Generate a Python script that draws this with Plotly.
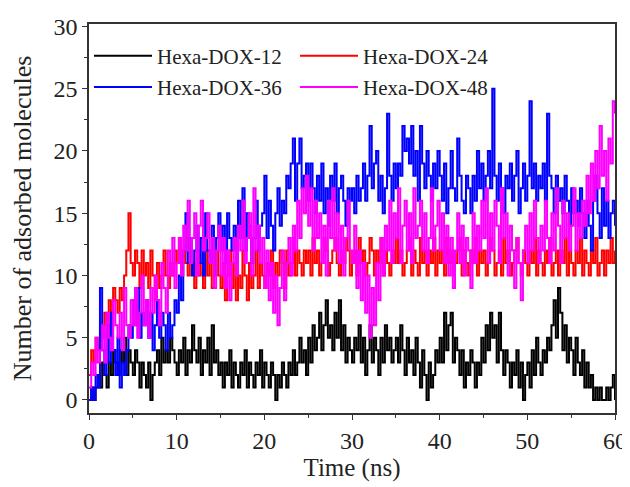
import numpy as np
import plotly.graph_objects as go

dt = 0.25  # ns between samples
series_names = ["Hexa-DOX-12", "Hexa-DOX-24", "Hexa-DOX-36", "Hexa-DOX-48"]
series_colors = ["#000000", "#ff0000", "#0000ff", "#ff00ff"]
series_legend = ["legend", "legend", "legend2", "legend2"]

hexa_dox_12 = [
    0,1,0,1,2,1,3,2,1,3,2,4,3,2,4,3,5,2,4,3,
    2,4,3,1,3,2,1,3,0,2,3,4,2,5,3,4,3,5,4,3,
    2,4,3,5,2,4,3,6,4,3,5,2,4,3,5,2,6,3,4,2,
    3,1,3,2,4,1,3,2,1,3,2,4,1,3,2,1,3,2,4,1,
    3,2,1,3,2,0,2,1,3,2,1,3,2,4,2,3,5,3,4,2,
    5,3,6,4,5,7,4,6,8,5,6,4,7,5,8,4,6,3,5,4,
    3,5,4,6,3,5,2,4,6,3,5,4,2,5,3,6,4,5,3,4,
    5,3,6,4,2,5,3,4,2,5,3,1,4,2,0,3,1,2,4,3,
    5,3,7,4,6,7,3,5,4,2,4,1,3,2,4,3,1,3,2,5,
    3,6,4,7,5,6,3,7,4,2,4,3,1,3,2,4,1,3,0,2,
    3,1,4,2,5,3,2,4,3,5,4,6,8,5,9,7,4,6,3,5,
    4,2,5,3,2,4,1,3,1,2,0,1,0,1,0,0,1,0,1,2,
    0,
]
hexa_dox_24 = [
    2,4,3,5,4,6,5,7,6,8,7,9,8,7,9,8,10,12,15,11,
    10,12,11,9,12,10,11,9,12,10,8,11,9,10,12,10,9,11,10,12,
    11,13,10,12,11,10,13,11,9,12,10,11,9,12,10,11,9,10,12,10,
    9,11,8,10,12,9,11,8,10,9,12,10,8,11,9,10,12,9,11,10,
    9,11,10,12,9,11,10,12,11,9,12,10,11,13,10,12,11,10,12,11,
    12,10,13,11,12,10,11,13,12,10,11,12,13,11,10,12,11,13,12,10,
    11,12,10,13,11,12,10,11,13,12,10,12,11,13,10,12,11,10,12,11,
    13,11,12,10,11,12,13,10,12,11,10,13,11,12,10,12,11,13,10,12,
    11,12,10,13,11,12,10,11,12,13,10,12,11,10,12,11,13,10,12,11,
    12,10,11,13,12,10,11,12,10,13,11,12,10,11,12,13,11,10,12,11,
    10,12,11,13,10,12,11,10,12,11,13,10,11,12,10,12,11,13,10,12,
    11,10,12,11,13,10,12,11,10,12,11,13,10,11,12,10,12,11,13,11,
    12,
]
hexa_dox_36 = [
    0,1,0,2,1,9,4,2,6,3,7,4,2,5,1,3,2,4,6,5,
    8,6,9,5,7,6,8,5,7,4,6,8,5,7,6,4,7,5,6,8,
    7,10,8,12,15,11,13,10,12,14,11,13,10,15,12,11,14,10,13,15,
    12,14,11,15,13,12,14,11,16,13,17,12,15,14,11,13,16,12,14,15,
    18,13,16,14,12,15,17,14,16,15,18,17,19,21,16,19,21,17,18,19,
    16,19,17,15,18,16,19,15,17,14,18,16,19,15,17,18,16,14,17,16,
    17,15,18,16,17,19,16,18,22,17,19,20,16,18,15,17,23,18,16,19,
    17,19,18,22,20,21,19,22,18,20,16,22,19,17,20,18,16,19,17,20,
    18,16,19,15,17,20,17,16,21,18,16,15,18,17,15,18,16,20,17,19,
    16,18,20,17,25,18,16,19,17,15,18,17,19,16,18,20,15,17,19,16,
    18,24,17,19,16,18,17,19,16,23,18,17,15,18,16,17,15,18,16,14,
    17,15,16,14,17,15,13,16,14,12,16,18,15,13,17,14,16,13,15,16,
    14,
]
hexa_dox_48 = [
    1,3,2,5,3,4,6,3,7,5,4,8,6,5,7,4,9,6,5,8,
    6,9,5,7,10,6,8,5,9,7,10,8,6,11,9,7,12,10,13,9,
    11,13,10,14,12,16,11,13,15,10,14,16,12,13,15,11,13,9,12,14,
    10,13,9,12,8,11,13,10,14,12,16,11,13,15,10,17,12,14,11,13,
    9,12,8,11,7,10,6,9,12,8,11,13,10,14,12,16,13,17,15,18,
    14,17,12,16,13,15,11,14,10,16,13,17,12,15,11,14,10,13,16,12,
    11,14,9,12,8,11,7,10,5,9,6,11,8,13,10,14,12,16,11,15,
    13,17,11,14,16,12,15,11,17,13,14,16,12,15,11,13,17,12,14,16,
    12,15,11,14,10,13,9,12,15,11,14,10,13,12,9,15,11,14,12,16,
    13,17,11,15,12,16,14,11,17,13,15,10,14,12,9,13,11,8,12,14,
    11,15,12,16,13,11,14,12,16,13,11,15,12,17,14,11,16,13,15,12,
    14,17,12,15,13,16,14,18,15,19,16,20,17,22,18,20,16,21,19,24,
    23,
]

series_values = [hexa_dox_12, hexa_dox_24, hexa_dox_36, hexa_dox_48]
time_ns = np.arange(len(hexa_dox_12)) * dt

x_ticks = [0, 10, 20, 30, 40, 50, 60]
y_ticks = [0, 5, 10, 15, 20, 25, 30]

SERIF = "Liberation Serif"

fig = go.Figure()
for name, color, vals, lg in zip(series_names, series_colors, series_values, series_legend):
    fig.add_trace(go.Scatter(
        x=time_ns, y=vals, name=name, mode="lines", legend=lg,
        line=dict(color=color, width=2, shape="hv"),
    ))

axis_common = dict(
    showline=True, linecolor="#333333", linewidth=1.5, mirror=True,
    showgrid=False, zeroline=False, ticks="outside", ticklen=5,
    tickwidth=1.2, tickcolor="#333333", automargin=False,
    tickfont=dict(family=SERIF, size=24, color="#222222"),
)

fig.update_xaxes(
    range=[0, 60], tickvals=x_ticks,
    minor=dict(dtick=5, ticks="outside", ticklen=3, tickcolor="#333333", tick0=0),
    title=dict(text="Time (ns)", font=dict(family=SERIF, size=25, color="#222222"), standoff=4),
    **axis_common,
)
fig.update_yaxes(
    range=[-1.05, 30.2], tickvals=y_ticks,
    minor=dict(dtick=2.5, ticks="outside", ticklen=3, tickcolor="#333333", tick0=0),
    title=dict(text="Number of adsorbed molecules", font=dict(family=SERIF, size=26, color="#222222"), standoff=16),
    **axis_common,
)

legend_common = dict(
    orientation="h", xanchor="left", yanchor="top",
    bgcolor="rgba(0,0,0,0)", itemwidth=58,
    entrywidth=133, entrywidthmode="pixels",
    font=dict(family=SERIF, size=21, color="#222222"),
)

# page body adds an 8px offset, so the figure is sized to fit the 630x487 window
fig.update_layout(
    width=622, height=479,
    margin=dict(l=81, r=15, t=16, b=74),
    paper_bgcolor="white", plot_bgcolor="white",
    legend=dict(x=0.0, y=0.97, **legend_common),
    legend2=dict(x=0.0, y=0.89, **legend_common),
)

fig.write_html("out.html")
